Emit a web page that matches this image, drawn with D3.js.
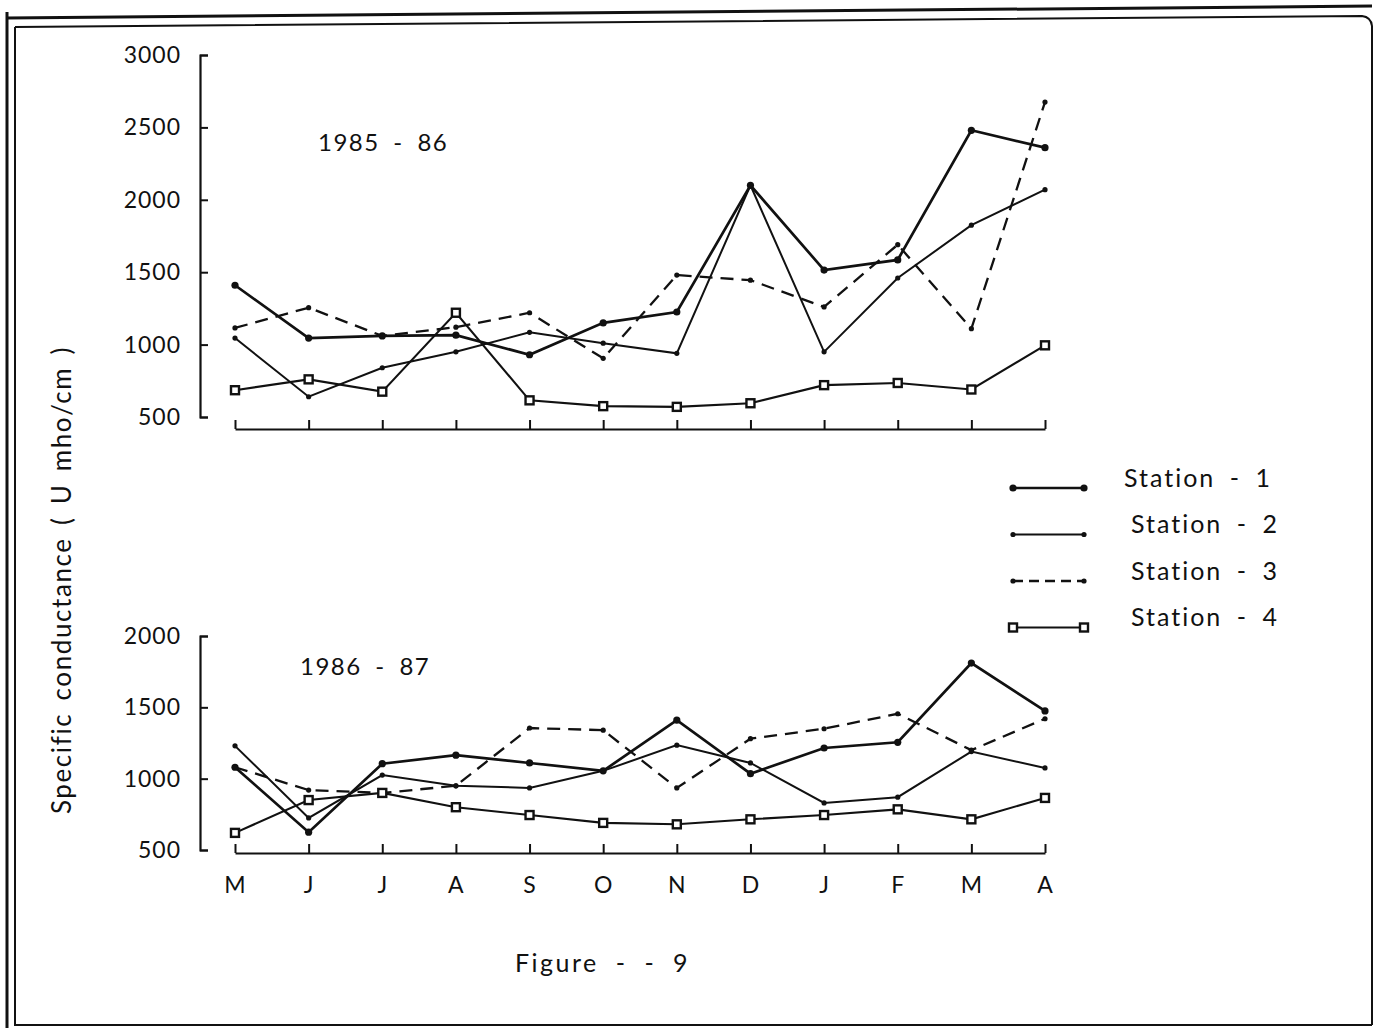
<!DOCTYPE html>
<html>
<head>
<meta charset="utf-8">
<script src="https://cdn.jsdelivr.net/npm/d3@7"></script>
<style>
	body { margin: 0; background: #fff; }
	svg { display: block; }
	text { font-family: Lato, "Open Sans", sans-serif; fill: #111; }
</style>
</head>
<body>
<div id="chart"></div>
<script>
// months, May to April
var months = ["M", "J", "J", "A", "S", "O", "N", "D", "J", "F", "M", "A"];
var stations = ["Station - 1", "Station - 2", "Station - 3", "Station - 4"];

// 1985 - 86 (U mho/cm)
var st1_8586 = [1410, 1045, 1060, 1065, 930, 1150, 1225, 2100, 1515, 1585, 2480, 2360];
var st2_8586 = [1045, 640, 840, 950, 1085, 1010, 940, 2100, 950, 1460, 1825, 2070];
var st3_8586 = [1115, 1255, 1060, 1120, 1220, 905, 1480, 1445, 1260, 1690, 1110, 2675];
var st4_8586 = [685, 760, 675, 1220, 615, 575, 570, 595, 720, 735, 690, 995];

// 1986 - 87 (U mho/cm)
var st1_8687 = [1080, 625, 1105, 1165, 1110, 1055, 1410, 1035, 1215, 1255, 1810, 1475];
var st2_8687 = [1230, 725, 1025, 950, 935, 1055, 1235, 1110, 830, 870, 1190, 1075];
var st3_8687 = [1080, 920, 900, 950, 1355, 1340, 935, 1280, 1350, 1455, 1200, 1420];
var st4_8687 = [620, 850, 900, 800, 745, 690, 680, 715, 745, 785, 715, 865];

var ticksTop = [500, 1000, 1500, 2000, 2500, 3000];
var ticksBottom = [500, 1000, 1500, 2000];

var width = 1379,
	height = 1028;

var svg = d3.select('#chart').append('svg')
	.attr('width', width)
	.attr('height', height);

// scanned frame
var frame = svg.append('g').attr('fill', 'none').attr('stroke', '#111');
frame.append('path').attr('stroke-width', 3).attr('d', 'M7,12 L7,1028');
frame.append('path').attr('stroke-width', 2).attr('d', 'M15,27 L15,1025 L1372,1025');
frame.append('path').attr('stroke-width', 3).attr('d', 'M7,18 L1372,6');
frame.append('path').attr('stroke-width', 2).attr('d', 'M15,27 L1362,16 Q1371,17 1372,26 L1372,1025');

var x = d3.scaleLinear().domain([0, months.length - 1]).range([235, 1045]);

var styles = [
	{ width: 2.7, dash: null, mark: 'bigdot' },
	{ width: 2, dash: null, mark: 'dot' },
	{ width: 2.3, dash: '13,8', mark: 'dot' },
	{ width: 2.1, dash: null, mark: 'square' }
];

function panel(series, yTicks, yTop, yBottom, xAxisY, label, labelX, labelY) {
	var y = d3.scaleLinear().domain([500, d3.max(yTicks)]).range([yBottom, yTop]);
	var g = svg.append('g');

	// y axis, ticks pointing inward
	g.append('g')
		.attr('transform', 'translate(200,0)')
		.call(d3.axisRight(y).tickValues(yTicks).tickSize(8).tickFormat(''))
		.call(function(a) {
			a.select('.domain').attr('stroke', '#111').attr('stroke-width', 2.2);
			a.selectAll('.tick line').attr('stroke', '#111').attr('stroke-width', 2);
		});

	g.selectAll('.ylab').data(yTicks).enter().append('text')
		.attr('x', 181)
		.attr('y', function(d) { return y(d); })
		.attr('dy', '0.35em')
		.attr('text-anchor', 'end')
		.style('font-size', '23px')
		.style('letter-spacing', '1px')
		.text(function(d) { return d; });

	// x axis, ticks pointing up
	g.append('g')
		.attr('transform', 'translate(0,' + xAxisY + ')')
		.call(d3.axisTop(x).tickValues(d3.range(months.length)).tickSize(9).tickSizeOuter(0).tickFormat(''))
		.call(function(a) {
			a.select('.domain').attr('stroke', '#111').attr('stroke-width', 2.2);
			a.selectAll('.tick line').attr('stroke', '#111').attr('stroke-width', 2);
		});

	g.append('text')
		.attr('x', labelX)
		.attr('y', labelY)
		.attr('dy', '0.35em')
		.style('font-size', '24px')
		.style('letter-spacing', '1.5px')
		.style('word-spacing', '6px')
		.text(label);

	var line = d3.line()
		.x(function(d, i) { return x(i); })
		.y(function(d) { return y(d); });

	series.forEach(function(values, k) {
		var s = styles[k];
		g.append('path')
			.datum(values)
			.attr('fill', 'none')
			.attr('stroke', '#111')
			.attr('stroke-width', s.width)
			.attr('stroke-dasharray', s.dash)
			.attr('d', line);
		drawMarks(g, s.mark, values.map(function(v, i) { return [x(i), y(v)]; }));
	});
}

function drawMarks(g, mark, pts) {
	if (mark === 'square') {
		g.selectAll(null).data(pts).enter().append('rect')
			.attr('x', function(d) { return d[0] - 4; })
			.attr('y', function(d) { return d[1] - 4; })
			.attr('width', 8)
			.attr('height', 8)
			.attr('fill', '#fff')
			.attr('stroke', '#111')
			.attr('stroke-width', 2.4);
	} else {
		g.selectAll(null).data(pts).enter().append('circle')
			.attr('cx', function(d) { return d[0]; })
			.attr('cy', function(d) { return d[1]; })
			.attr('r', mark === 'bigdot' ? 3.6 : 2.6)
			.attr('fill', '#111');
	}
}

panel([st1_8586, st2_8586, st3_8586, st4_8586], ticksTop, 55, 417, 429, '1985 - 86', 318, 143);
panel([st1_8687, st2_8687, st3_8687, st4_8687], ticksBottom, 636, 850, 853, '1986 - 87', 300, 667);

// month labels
svg.selectAll('.month').data(months).enter().append('text')
	.attr('x', function(d, i) { return x(i); })
	.attr('y', 885)
	.attr('dy', '0.35em')
	.attr('text-anchor', 'middle')
	.style('font-size', '23px')
	.text(function(d) { return d; });

// y title
svg.append('text')
	.attr('transform', 'translate(62,580) rotate(-90)')
	.attr('dy', '0.35em')
	.attr('text-anchor', 'middle')
	.style('font-size', '26px')
	.style('letter-spacing', '1.6px')
	.style('word-spacing', '4px')
	.text('Specific conductance  ( U mho/cm )');

// legend
var legend = svg.append('g');
stations.forEach(function(name, k) {
	var ly = 480 + k * 46.5;
	var s = styles[k];
	legend.append('line')
		.attr('x1', 1013).attr('x2', 1084)
		.attr('y1', ly + 8).attr('y2', ly + 8)
		.attr('stroke', '#111')
		.attr('stroke-width', s.width)
		.attr('stroke-dasharray', s.dash ? '10,6' : null);
	drawMarks(legend, s.mark, [[1013, ly + 8], [1084, ly + 8]]);
	legend.append('text')
		.attr('x', k === 0 ? 1124 : 1131)
		.attr('y', ly - 2)
		.attr('dy', '0.35em')
		.style('font-size', '25px')
		.style('letter-spacing', '2px')
		.style('word-spacing', '6px')
		.text(name);
});

svg.append('text')
	.attr('x', 515)
	.attr('y', 963)
	.attr('dy', '0.35em')
	.style('font-size', '25px')
	.style('letter-spacing', '2.5px')
	.style('word-spacing', '8px')
	.text('Figure  -  -  9');
</script>
</body>
</html>
